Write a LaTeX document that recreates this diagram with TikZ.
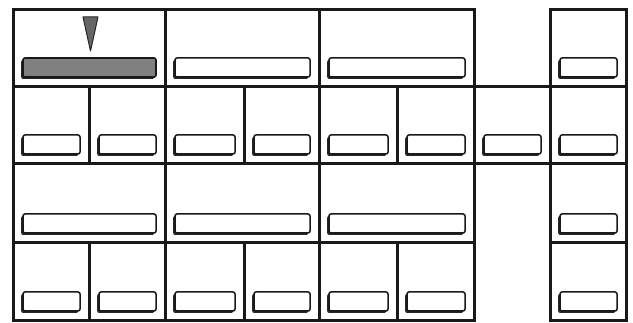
\documentclass[tikz,border=0pt]{standalone}
\begin{document}
\begin{tikzpicture}[x=1pt,y=-1pt,
  cell/.style={draw=black!90,line width=3pt},
  bar/.style={draw=black!90,fill=white,line width=1.5pt,rounded corners=2pt},
  barshadow/.style={fill=black!85,rounded corners=2pt},
  graybar/.style={draw=black!90,fill=black!50,line width=1.6pt,rounded corners=2pt},
  marker/.style={draw=black!85,fill=black!60,line width=1pt,line join=round}]
\useasboundingbox (0,0) rectangle (633,323);
% column edges
\def\xa{13}\def\xb{89}\def\xc{165}\def\xd{244}\def\xe{319}\def\xf{397}\def\xg{474}\def\xh{550}\def\xi{626}
\def\ya{10}\def\yb{87}\def\yc{164}\def\yd{243}\def\ye{321}
% bars: #1 left, #2 right, #3 cell bottom
\newcommand{\cellbar}[3]{%
  \fill[barshadow] (#1+10-1.8,#3-29+1.8) rectangle (#2-9-1.8,#3-10+2);
  \draw[bar] (#1+10,#3-29) rectangle (#2-9,#3-10);}
% row 1
\draw[cell] (\xa,\ya) rectangle (\xc,\yb);
\draw[cell] (\xc,\ya) rectangle (\xe,\yb);
\draw[cell] (\xe,\ya) rectangle (\xg,\yb);
\draw[cell] (\xh,\ya) rectangle (\xi,\yb);
% row 2
\foreach \l/\r in {\xa/\xb,\xb/\xc,\xc/\xd,\xd/\xe,\xe/\xf,\xf/\xg,\xg/\xh,\xh/\xi}{
  \draw[cell] (\l,\yb) rectangle (\r,\yc);
  \cellbar{\l}{\r}{\yc}}
% row 3
\draw[cell] (\xa,\yc) rectangle (\xc,\yd);
\draw[cell] (\xc,\yc) rectangle (\xe,\yd);
\draw[cell] (\xe,\yc) rectangle (\xg,\yd);
\draw[cell] (\xh,\yc) rectangle (\xi,\yd);
% row 4
\foreach \l/\r in {\xa/\xb,\xb/\xc,\xc/\xd,\xd/\xe,\xe/\xf,\xf/\xg,\xh/\xi}{
  \draw[cell] (\l,\yd) rectangle (\r,\ye);
  \cellbar{\l}{\r}{\ye}}
% wide bars rows 1 and 3
\cellbar{\xc}{\xe}{\yb}
\cellbar{\xe}{\xg}{\yb}
\cellbar{\xh}{\xi}{\yb}
\cellbar{\xa}{\xc}{\yd}
\cellbar{\xc}{\xe}{\yd}
\cellbar{\xe}{\xg}{\yd}
\cellbar{\xh}{\xi}{\yd}
% selected gray bar with marker
\fill[barshadow] (21.2,59.8) rectangle (154.2,79);
\draw[graybar] (23,58) rectangle (156,77);
\draw[marker] (83,17) -- (98,17) -- (90.5,51) -- cycle;
\end{tikzpicture}
\end{document}
